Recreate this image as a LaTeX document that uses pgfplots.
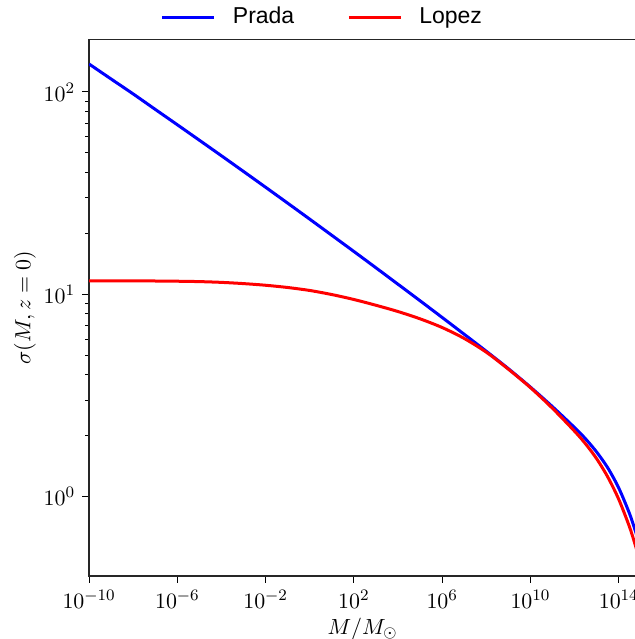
\documentclass[border=0pt]{standalone}
\usepackage{fontspec}
\usepackage{pgfplots}
\pgfplotsset{compat=1.18}
\newfontfamily\legfont{Liberation Sans}

\pgfplotstableread{
M sigma
1e-10 137.4
1e-9 115.8
1e-8 97.70
1e-7 81.96
1e-6 68.82
1e-5 57.71
1e-4 48.35
1e-3 40.45
1e-2 33.80
1e-1 28.21
1e0 23.51
1e1 19.57
1e2 16.28
1e3 13.52
1e4 11.21
1e5 9.290
1e6 7.685
1e7 6.346
1e8 5.231
1e9 4.291
1e10 3.479
1e11 2.783
1e12 2.195
3.162e12 1.930
1e13 1.662
3.162e13 1.390
1e14 1.104
3.162e14 0.8185
6.31e14 0.6516
}\prada

\pgfplotstableread{
M sigma
1e-10 11.67
1e-9 11.67
1e-8 11.66
1e-7 11.64
1e-6 11.61
1e-5 11.56
1e-4 11.46
1e-3 11.30
1e-2 11.09
1e-1 10.81
1e0 10.45
1e1 9.977
1e2 9.430
1e3 8.831
1e4 8.222
1e5 7.568
1e6 6.855
1e7 6.053
1e8 5.176
1e9 4.266
1e10 3.459
1e11 2.732
1e12 2.106
3.162e12 1.822
1e13 1.540
3.162e13 1.253
1e14 0.9705
3.162e14 0.7031
6.31e14 0.5521
}\lopez

\begin{document}
\begin{tikzpicture}
\begin{axis}[
  at={(44.55pt,31.5pt)}, anchor=south west,
  scale only axis, width=273.45pt, height=268.35pt,
  xmode=log, ymode=log,
  xmin=1e-10, xmax=6.03e14, ymin=0.406, ymax=182,
  xtick={1e-10,1e-6,1e-2,1e2,1e6,1e10,1e14},
  ytick={1,10,100},
  xminorticks=false,
  tick pos=left, tick align=outside,
  major tick length=3.5pt, minor tick length=2pt,
  tick style={black, line width=0.5pt},
  axis line style={black!85, line width=0.6pt},
  ticklabel style={font=\fontsize{11}{13}\selectfont},
  label style={font=\fontsize{11}{13}\selectfont},
  xlabel={$M/M_{\odot}$},
  ylabel={$\sigma(M, z=0)$},
  xlabel shift=-2pt,
  ylabel shift=-3pt,
  legend columns=2,
  legend style={at={(axis description cs:0.4285,1)}, anchor=center, yshift=11.15pt,
    draw=none, fill=none, font=\legfont\fontsize{11.5}{13}\selectfont,
    /tikz/every odd column/.append style={column sep=6.5pt},
    /tikz/every even column/.append style={column sep=24.5pt}},
  legend image code/.code={\draw[#1] (0pt,0pt) -- (26pt,0pt);},
]
\addplot[blue, line width=1.5pt, no markers, smooth] table[x=M, y=sigma] {\prada};
\addlegendentry{Prada}
\addplot[red, line width=1.5pt, no markers, smooth] table[x=M, y=sigma] {\lopez};
\addlegendentry{Lopez}
\end{axis}
\pgfresetboundingbox
\useasboundingbox (0pt,0pt) rectangle (317.5pt,319.5pt);
\end{tikzpicture}
\end{document}
